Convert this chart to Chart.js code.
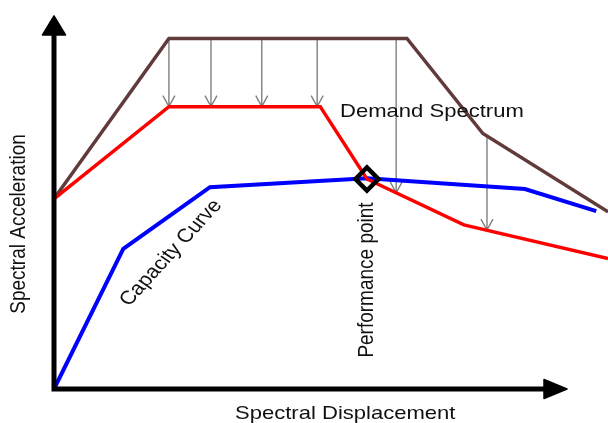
<!DOCTYPE html>
<html>
<head>
<meta charset="utf-8">
<script src="https://cdn.jsdelivr.net/npm/chart.js@4"></script>
<style>
  body { margin: 0; background: #fff; }
  #wrap { width: 608px; height: 423px; }
</style>
</head>
<body>
<div id="wrap"><canvas id="spectrum-chart" width="608" height="423"></canvas></div>
<script>
// values, arbitrary units 0-100 on both axes
const demandX = [0, 22.4, 68.8, 83.6, 108];
const demandY = [51, 94, 94, 68.5, 47.5];
const reducedX = [0, 22.4, 51.9, 61.0, 79.9, 108];
const reducedY = [51, 75.7, 75.7, 56.3, 44, 35];
const capacityX = [0, 13.5, 30.4, 61.0, 91.8, 105.7];
const capacityY = [0, 37.6, 54.1, 56.5, 53.6, 47.7];
const perfX = [61.0];
const perfY = [56.3];

// the grey reduction arrows: where they sit, where they start and where they end
const arrowX = [22.4, 30.6, 40.5, 51.3, 66.7, 84.4];
const arrowFrom = [94, 94, 94, 94, 94, 67.9];
const arrowTo = [75.7, 75.7, 75.7, 75.7, 52.6, 42.6];

const pts = (xs, ys) => xs.map((x, i) => ({ x: x, y: ys[i] }));

const FONT = '19px "Liberation Sans", Arial, sans-serif';
const STRETCH = 1.16; // the original text is a bit wide

function drawText(ctx, text, x, y, angle, align, baseline) {
    ctx.save();
    ctx.translate(x, y);
    ctx.scale(STRETCH, 1);
    ctx.rotate(angle);
    ctx.font = FONT;
    ctx.fillStyle = "#111";
    ctx.textAlign = align;
    ctx.textBaseline = baseline;
    ctx.fillText(text, 0, 0);
    ctx.restore();
}

const decorations = {
    id: "decorations",
    beforeDatasetsDraw(chart) {
        const ctx = chart.ctx;
        const sx = chart.scales.x;
        const sy = chart.scales.y;
        ctx.save();
        ctx.strokeStyle = "#808080";
        ctx.lineWidth = 1.4;
        for (let i = 0; i < arrowX.length; i++) {
            const px = sx.getPixelForValue(arrowX[i]);
            const y1 = sy.getPixelForValue(arrowFrom[i]);
            const y2 = sy.getPixelForValue(arrowTo[i]);
            ctx.beginPath();
            ctx.moveTo(px, y1);
            ctx.lineTo(px, y2);
            ctx.moveTo(px - 6, y2 - 11);
            ctx.lineTo(px, y2);
            ctx.lineTo(px + 6, y2 - 11);
            ctx.stroke();
        }
        ctx.restore();
    },
    afterDatasetsDraw(chart) {
        const ctx = chart.ctx;
        const area = chart.chartArea;
        const ox = chart.scales.x.getPixelForValue(0);
        const oy = chart.scales.y.getPixelForValue(0);
        ctx.save();
        // axes
        ctx.strokeStyle = "#000";
        ctx.fillStyle = "#000";
        ctx.lineWidth = 5;
        ctx.beginPath();
        ctx.moveTo(ox, oy + 2.5);
        ctx.lineTo(ox, area.top + 18);
        ctx.moveTo(ox - 2.5, oy);
        ctx.lineTo(area.right - 22, oy);
        ctx.stroke();
        ctx.lineWidth = 1.5;
        ctx.lineJoin = "round";
        ctx.beginPath();
        ctx.moveTo(ox, area.top);
        ctx.lineTo(ox - 11.5, area.top + 19);
        ctx.lineTo(ox + 11.5, area.top + 19);
        ctx.closePath();
        ctx.fill();
        ctx.stroke();
        ctx.beginPath();
        ctx.moveTo(area.right, oy);
        ctx.lineTo(area.right - 23, oy - 9.5);
        ctx.lineTo(area.right - 23, oy + 9.5);
        ctx.closePath();
        ctx.fill();
        ctx.stroke();
        ctx.restore();

        // labels
        drawText(ctx, "Demand Spectrum", 340, 117, 0, "left", "alphabetic");
        drawText(ctx, "Spectral Displacement", 235, 419, 0, "left", "alphabetic");
        drawText(ctx, "Spectral Acceleration", 25, 224, -Math.PI / 2, "center", "alphabetic");
        drawText(ctx, "Performance point", 373, 280, -Math.PI / 2, "center", "alphabetic");
        drawText(ctx, "Capacity Curve", 171, 253, -0.9, "center", "middle");
    },
};

const lineStyle = {
    showLine: true,
    pointRadius: 0,
    tension: 0,
    clip: false,
    borderJoinStyle: "miter",
};

const config = {
    type: "scatter",
    data: {
        datasets: [
            {
                label: "Performance point",
                data: pts(perfX, perfY),
                pointStyle: "rectRot",
                pointRadius: 11.5,
                pointBorderWidth: 4.5,
                pointBorderColor: "#000",
                pointBackgroundColor: "rgba(0,0,0,0)",
                clip: false,
                order: 0,
            },
            {
                ...lineStyle,
                label: "Reduced demand",
                data: pts(reducedX, reducedY),
                borderColor: "#ff0000",
                borderWidth: 3.5,
                order: 1,
            },
            {
                ...lineStyle,
                label: "Capacity Curve",
                data: pts(capacityX, capacityY),
                borderColor: "#0000ff",
                borderWidth: 4,
                order: 2,
            },
            {
                ...lineStyle,
                label: "Demand Spectrum",
                data: pts(demandX, demandY),
                borderColor: "#613a3a",
                borderWidth: 3.5,
                order: 3,
            },
        ],
    },
    options: {
        responsive: false,
        animation: false,
        events: [],
        layout: {
            padding: { left: 54, top: 14, right: 41, bottom: 34 },
        },
        scales: {
            x: { type: "linear", min: 0, max: 100, display: false },
            y: { type: "linear", min: 0, max: 100, display: false },
        },
        plugins: {
            legend: { display: false },
            tooltip: { enabled: false },
        },
    },
    plugins: [decorations],
};

const spectrumChart = new Chart(document.getElementById("spectrum-chart"), config);
</script>
</body>
</html>
